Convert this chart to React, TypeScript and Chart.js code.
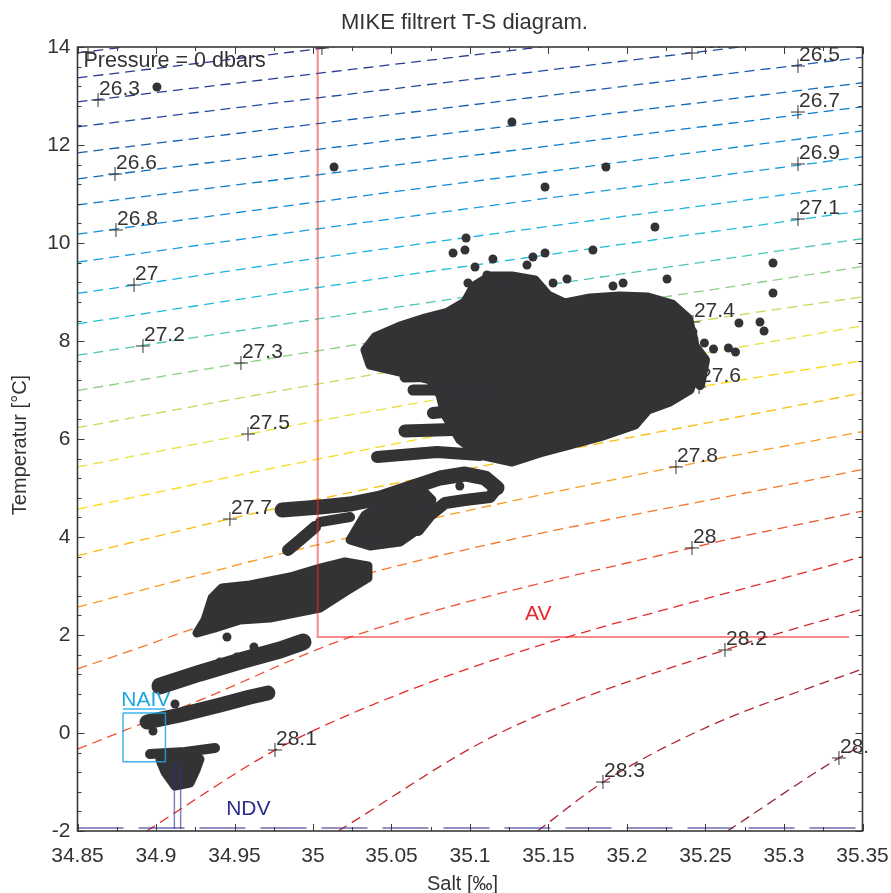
import React, { useEffect, useRef } from 'react';
import { Chart, registerables } from 'chart.js';

Chart.register(...registerables);

// ---------- axis ----------
const xMin = 34.85, xMax = 35.35, xStep = 0.025, xLabelStep = 0.05;
const yMin = -2, yMax = 14, yStep = 0.4, yLabelStep = 2;

// ---------- isopycnal contours (sigma-t) ----------
const contourLevels = [26.1, 26.2, 26.3, 26.4, 26.5, 26.6, 26.7, 26.8, 26.9, 27.0, 27.1, 27.2, 27.3, 27.4, 27.5, 27.6, 27.7, 27.8, 27.9, 28.0, 28.1, 28.2, 28.3, 28.4];
const contourColors = ['#3b3b8f', '#2c3590', '#283d94', '#1f4c9f', '#1a5cae', '#0f6cbd', '#0a7ccb', '#108cd6', '#1a9ddf', '#1eb0e3', '#22bdd8', '#4fc6b5', '#8ccf85', '#c3da5c', '#e6e23a', '#f9dc10', '#fbbd0b', '#f99c1f', '#f6772b', '#f05433', '#e8292b', '#c92a2e', '#ad2530', '#962332'];
const contourLines: number[][][] = [
  [[34.85, 13.88], [34.88, 14.0]],
  [[34.85, 13.37], [35.013, 14.0]],
  [[34.85, 12.88], [35.145, 14.0]],
  [[34.85, 12.37], [35.272, 14.0]],
  [[34.85, 11.84], [35.35, 13.79]],
  [[34.85, 11.31], [35.35, 13.27]],
  [[34.85, 10.78], [35.35, 12.78]],
  [[34.85, 10.18], [35.003, 10.84], [35.35, 12.29]],
  [[34.85, 9.61], [35.003, 10.29], [35.35, 11.76]],
  [[34.85, 8.97], [35.003, 9.69], [35.35, 11.2]],
  [[34.85, 8.35], [35.003, 9.09], [35.35, 10.66]],
  [[34.85, 7.71], [35.003, 8.45], [35.35, 10.09]],
  [[34.85, 6.99], [35.003, 7.8], [35.35, 9.52]],
  [[34.85, 6.23], [35.003, 7.12], [35.242, 8.39], [35.35, 8.9]],
  [[34.85, 5.43], [34.9586, 6.1], [35.003, 6.37], [35.35, 8.31]],
  [[34.85, 4.57], [35.003, 5.59], [35.246, 7.06], [35.35, 7.6]],
  [[34.85, 3.62], [34.947, 4.37], [35.003, 4.77], [35.35, 6.94]],
  [[34.85, 2.57], [35.003, 3.84], [35.231, 5.43], [35.35, 6.15]],
  [[34.85, 1.31], [35.024, 3.16], [35.35, 5.38]],
  [[34.85, -0.33], [34.928, 0.67], [35.024, 1.96], [35.2414, 3.78], [35.35, 4.53]],
  [[34.894, -2], [34.9758, -0.35], [35.03, 0.47], [35.119, 1.53], [35.35, 3.6]],
  [[35.016, -2], [35.119, 0.0], [35.262, 1.69], [35.35, 2.53]],
  [[35.143, -2], [35.185, -1.0], [35.251, 0.12], [35.35, 1.31]],
  [[35.264, -2], [35.335, -0.51], [35.35, -0.25]],
];

// contour labels (position of the "+" marker)
const labelText = ['26.1', '26.2', '26.3', '26.4', '26.5', '26.6', '26.7', '26.8', '26.9', '27', '27.1', '27.2', '27.3', '27.4', '27.5', '27.6', '27.7', '27.8', '28', '28.1', '28.2', '28.3', '28.4'];
const labelS = [34.8567, 35.0057, 34.8631, 35.2414, 35.3089, 34.8739, 35.3089, 34.8745, 35.3089, 34.886, 35.3089, 34.8917, 34.9541, 35.242, 34.9586, 35.2459, 34.9471, 35.2312, 35.2414, 34.9758, 35.2624, 35.1847, 35.335];
const labelT = [13.898, 13.98, 12.918, 13.878, 13.612, 11.408, 12.673, 10.265, 11.612, 9.143, 10.49, 7.898, 7.551, 8.388, 6.102, 7.061, 4.367, 5.429, 3.776, -0.347, 1.694, -1.0, -0.51];

// ---------- measurements: dense cores (filled outlines) ----------
const mainCore = [[35.0331, 7.816], [35.0395, 8.082], [35.0554, 8.306], [35.0713, 8.469], [35.086, 8.592], [35.0968, 8.796], [35.1025, 9.122], [35.1127, 9.327], [35.1267, 9.327], [35.1414, 9.245], [35.1497, 8.939], [35.1605, 8.776], [35.1764, 8.878], [35.1955, 8.918], [35.2134, 8.898], [35.2287, 8.755], [35.2389, 8.469], [35.2427, 8.02], [35.2446, 7.51], [35.2401, 7.0], [35.2274, 6.755], [35.2134, 6.592], [35.2051, 6.286], [35.1828, 6.041], [35.1637, 5.878], [35.1446, 5.714], [35.1268, 5.531], [35.1064, 5.673], [35.0936, 5.98], [35.0841, 6.49], [35.0809, 6.898], [35.0745, 7.204], [35.0554, 7.367], [35.0363, 7.51], [35.0331, 7.816]];
const loopCore = [[35.0236, 3.939], [35.0331, 4.449], [35.049, 4.755], [35.0682, 5.0], [35.0758, 4.755], [35.0682, 4.184], [35.0554, 3.898], [35.0363, 3.816], [35.0236, 3.939]];
const midCore = [[34.9261, 2.041], [34.9312, 2.306], [34.9357, 2.755], [34.942, 2.959], [34.9599, 3.02], [34.9854, 3.184], [35.0045, 3.367], [35.0204, 3.49], [35.035, 3.408], [35.035, 3.163], [35.0204, 2.878], [35.0045, 2.551], [34.9917, 2.469], [34.9726, 2.347], [34.9535, 2.306], [34.9376, 2.143], [34.9261, 2.041]];
const ndvCore = [[34.9025, -0.551], [34.928, -0.531], [34.9255, -0.755], [34.9217, -1.02], [34.9121, -1.082], [34.9057, -0.796], [34.9025, -0.551]];

// ---------- measurements: profile tracks (thick streaks) ----------
const tracks: number[][][] = [
  [[35.0408, 5.633], [35.079, 5.735], [35.1064, 5.673]],
  [[35.0586, 6.163], [35.1191, 6.224], [35.1828, 6.102]],
  [[35.0764, 6.531], [35.1255, 6.694]],
  [[35.0637, 7.0], [35.1146, 7.0]],
  [[35.0586, 7.265], [35.1172, 7.306]],
  [[35.0618, 7.612], [35.1191, 7.653]],
  [[35.2401, 8.02], [35.2497, 7.612], [35.2465, 7.102]],
  [[34.9803, 4.551], [35.0045, 4.612], [35.0236, 4.673], [35.0427, 4.796], [35.0618, 5.0], [35.0809, 5.204], [35.0968, 5.286], [35.1096, 5.204], [35.1172, 5.0]],
  [[35.1172, 5.0], [35.1127, 4.816], [35.0968, 4.755], [35.0841, 4.694], [35.0745, 4.449], [35.0669, 4.143]],
  [[34.9841, 3.735], [34.9917, 3.939], [35.0013, 4.204]],
  [[35.0045, 4.306], [35.0236, 4.408]],
  [[34.9025, 0.959], [34.928, 1.224], [34.9535, 1.469], [34.979, 1.694], [34.9936, 1.857]],
  [[34.8943, 0.224], [34.9153, 0.367], [34.9408, 0.571], [34.9599, 0.735], [34.9713, 0.816]],
  [[34.8962, -0.429], [34.9185, -0.388], [34.9376, -0.306]],
];
const trackWidths = [12, 13, 12, 11, 11, 9, 10, 15, 12, 12, 10, 17, 15, 10];

// ---------- measurements: single points ----------
const dotS = [34.9006, 35.0134, 35.1267, 35.1866, 35.1478, 35.0892, 35.0975, 35.0968, 35.1146, 35.1401, 35.1478, 35.1783, 35.1032, 35.1108, 35.1363, 35.0987, 35.1529, 35.1618, 35.1911, 35.1975, 35.2255, 35.2178, 35.293, 35.293, 35.2847, 35.2713, 35.2873, 35.2551, 35.2646, 35.2691, 35.2493, 35.2401, 35.2318, 35.2357, 35.242, 34.8981, 34.9121, 34.9408, 34.9516, 34.9624, 34.9452, 35.0935];
const dotT = [13.184, 11.551, 12.469, 11.551, 11.143, 9.796, 10.102, 9.857, 9.673, 9.714, 9.796, 9.857, 9.51, 9.347, 9.551, 9.184, 9.184, 9.265, 9.122, 9.184, 9.265, 10.327, 9.592, 8.98, 8.388, 8.367, 8.204, 7.837, 7.857, 7.776, 7.959, 7.143, 8.265, 8.061, 8.184, 0.041, 0.592, 1.449, 1.551, 1.755, 1.959, 5.04];

// ---------- water mass boxes ----------
const avS = [35.003, 35.003, 35.3414];
const avT = [14, 1.96, 1.96];
const naivS = [34.879, 34.906, 34.906, 34.879, 34.879];
const naivT = [0.408, 0.408, -0.586, -0.586, 0.408];
const naivTopS = [34.879, 34.906];
const naivTopT = [0.49, 0.49];
const ndvLeftS = [34.9117, 34.9117];
const ndvRightS = [34.9157, 34.9157];
const ndvVertT = [-0.59, -1.96];
const ndvBottomS = [34.85, 35.35];
const ndvBottomT = [-1.94, -1.94];

const FONT = '"Liberation Sans", Arial, sans-serif';
const DOT = '#333336';

function pts(a: number[][]) {
  return a.map(([s, t]) => ({ x: s, y: t }));
}
function zip(s: number[], t: number[]) {
  return s.map((v, i) => ({ x: v, y: t[i] }));
}
function isMult(v: number, step: number) {
  const r = v / step;
  return Math.abs(r - Math.round(r)) < 1e-6;
}

const overlay = {
  id: 'overlay',
  afterDatasetsDraw(chart: any) {
    const { ctx, chartArea: a } = chart;
    const x = chart.scales.x, y = chart.scales.y;
    // contour labels
    ctx.save();
    ctx.beginPath();
    ctx.rect(a.left, a.top, a.right - a.left + 5, a.bottom - a.top);
    ctx.clip();
    ctx.font = '21px ' + FONT;
    ctx.fillStyle = '#333333';
    ctx.textAlign = 'left';
    ctx.textBaseline = 'alphabetic';
    labelText.forEach((t, i) => {
      ctx.fillText(t, x.getPixelForValue(labelS[i]) + 1, y.getPixelForValue(labelT[i]) - 5);
    });
    ctx.font = '21.5px ' + FONT;
    ctx.fillText('Pressure = 0 dbars', a.left + 6, a.top + 20);
    ctx.restore();

    // water mass names
    ctx.save();
    ctx.font = '21px ' + FONT;
    ctx.textAlign = 'center';
    ctx.textBaseline = 'alphabetic';
    ctx.fillStyle = '#e8262b';
    ctx.fillText('AV', x.getPixelForValue(35.1435), y.getPixelForValue(2.3));
    ctx.fillStyle = '#2d2f8f';
    ctx.fillText('NDV', x.getPixelForValue(34.9588), y.getPixelForValue(-1.67));
    ctx.fillStyle = '#1ea6e0';
    ctx.fillText('NAIV', x.getPixelForValue(34.8935), y.getPixelForValue(0.55));
    ctx.restore();

    // box + inward ticks
    ctx.save();
    ctx.strokeStyle = '#3a3a3a';
    ctx.lineWidth = 1;
    x.ticks.forEach((tk: any) => {
      const px = Math.round(x.getPixelForValue(tk.value)) + 0.5;
      const len = isMult(tk.value, xLabelStep) ? 7 : 4;
      ctx.beginPath();
      ctx.moveTo(px, a.bottom); ctx.lineTo(px, a.bottom - len);
      ctx.moveTo(px, a.top); ctx.lineTo(px, a.top + len);
      ctx.stroke();
    });
    y.ticks.forEach((tk: any) => {
      const py = Math.round(y.getPixelForValue(tk.value)) + 0.5;
      const len = isMult(tk.value, yLabelStep) ? 7 : 4;
      ctx.beginPath();
      ctx.moveTo(a.left, py); ctx.lineTo(a.left + len, py);
      ctx.moveTo(a.right, py); ctx.lineTo(a.right - len, py);
      ctx.stroke();
    });
    ctx.lineWidth = 1.6;
    ctx.strokeStyle = '#3a3a3a';
    ctx.strokeRect(a.left, a.top, a.right - a.left, a.bottom - a.top);
    ctx.restore();
  },
  afterDraw(chart: any) {
    const { ctx, chartArea: a } = chart;
    ctx.save();
    ctx.fillStyle = '#333333';
    ctx.font = '22px ' + FONT;
    ctx.textAlign = 'center';
    ctx.textBaseline = 'alphabetic';
    ctx.fillText('MIKE filtrert T-S diagram.', (a.left + a.right) / 2 - 5.5, 29);
    ctx.font = '20px ' + FONT;
    ctx.fillText('Salt [‰]', (a.left + a.right) / 2 - 7.5, 890);
    ctx.translate(26, (a.top + a.bottom) / 2 + 6);
    ctx.rotate(-Math.PI / 2);
    ctx.fillText('Temperatur [°C]', 0, 0);
    ctx.restore();
  },
};

export default function App() {
  const ref = useRef<HTMLCanvasElement>(null);
  useEffect(() => {
    if (!ref.current) return;
    const datasets: any[] = [];
    contourLines.forEach((line, i) => {
      datasets.push({
        data: pts(line), showLine: true, borderColor: contourColors[i], borderWidth: 1.3,
        borderDash: [10, 6], pointRadius: 0, cubicInterpolationMode: 'monotone', order: 100,
      });
    });
    [mainCore, loopCore, midCore, ndvCore].forEach((poly) => {
      datasets.push({
        data: pts(poly), showLine: true, fill: 'shape', backgroundColor: DOT, borderColor: DOT,
        borderWidth: 9, borderJoinStyle: 'round', borderCapStyle: 'round', pointRadius: 0, tension: 0, order: 60,
      });
    });
    tracks.forEach((tr, i) => {
      datasets.push({
        data: pts(tr), showLine: true, borderColor: DOT, borderWidth: trackWidths[i],
        borderJoinStyle: 'round', borderCapStyle: 'round', pointRadius: 0, tension: 0, order: 55,
      });
    });
    datasets.push({ data: zip(dotS, dotT), pointRadius: 4.5, pointBackgroundColor: DOT, pointBorderWidth: 0, order: 50 });
    datasets.push({ data: zip(avS, avT), showLine: true, borderColor: 'rgba(238,40,40,0.55)', borderWidth: 2, pointRadius: 0, tension: 0, order: 20 });
    datasets.push({ data: zip(naivS, naivT), showLine: true, borderColor: 'rgba(30,166,224,0.85)', borderWidth: 1.5, pointRadius: 0, tension: 0, order: 20 });
    datasets.push({ data: zip(naivTopS, naivTopT), showLine: true, borderColor: 'rgba(30,166,224,0.85)', borderWidth: 1.5, pointRadius: 0, tension: 0, order: 20 });
    datasets.push({ data: zip(ndvLeftS, ndvVertT), showLine: true, borderColor: 'rgba(45,47,143,0.6)', borderWidth: 1.5, pointRadius: 0, tension: 0, order: 20 });
    datasets.push({ data: zip(ndvRightS, ndvVertT), showLine: true, borderColor: 'rgba(45,47,143,0.6)', borderWidth: 1.5, pointRadius: 0, tension: 0, order: 20 });
    datasets.push({ data: zip(ndvBottomS, ndvBottomT), showLine: true, borderColor: 'rgba(45,47,143,0.7)', borderWidth: 1.5, borderDash: [46, 15], pointRadius: 0, tension: 0, order: 20 });
    datasets.push({ data: zip(labelS, labelT), pointStyle: 'cross', pointRadius: 7, pointBorderWidth: 1, pointBorderColor: '#333333', order: 5 });

    const chart = new Chart(ref.current, {
      type: 'scatter',
      data: { datasets },
      options: {
        animation: false,
        responsive: false,
        devicePixelRatio: 1,
        events: [],
        layout: { padding: { left: 0, top: 47, right: 28.5, bottom: 0 } },
        plugins: { legend: { display: false }, tooltip: { enabled: false }, title: { display: false } },
        scales: {
          x: {
            type: 'linear', min: xMin, max: xMax, position: 'bottom',
            grid: { display: false, drawTicks: true, tickLength: 11 }, border: { display: false },
            afterFit: (s: any) => { s.height = 62; },
            ticks: {
              stepSize: xStep, autoSkip: false, maxRotation: 0, padding: 2, color: '#333333',
              font: { family: FONT, size: 21 },
              callback: (v: any) => (isMult(Number(v), xLabelStep) ? String(Number(Number(v).toFixed(2))) : ''),
            },
          },
          y: {
            type: 'linear', min: yMin, max: yMax,
            grid: { display: false, drawTicks: false }, border: { display: false },
            afterFit: (s: any) => { s.width = 77.5; },
            ticks: {
              stepSize: yStep, autoSkip: false, padding: 7, color: '#333333',
              font: { family: FONT, size: 21 },
              callback: (v: any) => (isMult(Number(v), yLabelStep) ? String(Math.round(Number(v))) : ''),
            },
          },
        },
      },
      plugins: [overlay],
    });
    return () => chart.destroy();
  }, []);
  return (
    <div style={{ position: 'fixed', left: 0, top: 0, width: 891, height: 893, background: '#fff' }}>
      <canvas ref={ref} width={891} height={893} style={{ width: 891, height: 893, display: 'block' }} />
    </div>
  );
}
